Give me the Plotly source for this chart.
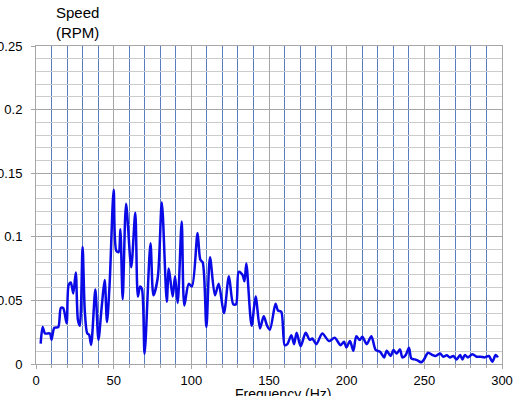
import plotly.graph_objects as go

freq_hz = [3.0, 4.3, 5.8, 9.0, 10.0, 11.8, 14.3, 16.0, 17.5, 19.7, 21.0, 22.4, 24.0, 25.6, 27.0, 28.2,
           30.0, 31.4, 33.0, 34.2, 35.5, 38.2, 40.2, 42.3, 44.2, 45.7, 47.4, 50.0, 51.7, 53.2, 54.3,
           55.8, 58.0, 61.3, 63.9, 65.6, 67.0, 68.2, 69.9, 73.7, 75.6, 78.4, 81.0, 84.2, 85.5, 88.0,
           89.5, 91.2, 93.8, 95.5, 98.3, 100.4, 104.0, 105.8, 107.3, 109.7, 112.0, 115.2, 117.6,
           121.0, 124.2, 127.0, 128.8, 130.5, 133.0, 134.2, 135.4, 138.8, 141.4, 144.2, 146.6,
           148.8, 150.6, 154.2, 155.8, 157.9, 160.1, 161.8, 164.4, 166.1, 167.8, 170.4, 173.6,
           176.2, 177.9, 180.5, 184.3, 188.6, 192.3, 196.1, 198.3, 199.8, 202.1, 204.3, 206.2,
           208.4, 210.1, 212.9, 215.9, 218.7, 221.5, 224.1, 225.8, 228.3, 230.1, 232.2, 234.3,
           235.9, 238.0, 240.1, 241.6, 243.8, 245.9, 248.1, 249.8, 252.4, 255.2, 257.3, 260.1,
           262.2, 264.4, 266.5, 268.7, 270.8, 273.0, 274.5, 276.0, 278.1, 280.9, 283.7, 286.3,
           288.8, 291.6, 293.8, 295.9, 297.4]
speed_rpm = [0.016, 0.029, 0.024, 0.024, 0.019, 0.0285, 0.029, 0.044, 0.044, 0.032, 0.062, 0.064,
             0.0555, 0.072, 0.0345, 0.030, 0.092, 0.042, 0.024, 0.023, 0.015, 0.0585, 0.019, 0.045,
             0.066, 0.033, 0.063, 0.137, 0.089, 0.088, 0.106, 0.051, 0.126, 0.076, 0.119, 0.053,
             0.061, 0.059, 0.008, 0.095, 0.054, 0.068, 0.127, 0.049, 0.075, 0.053, 0.069, 0.048,
             0.112, 0.046, 0.063, 0.061, 0.103, 0.082, 0.080, 0.029, 0.084, 0.054, 0.063, 0.040,
             0.069, 0.047, 0.047, 0.0725, 0.070, 0.065, 0.079, 0.030, 0.053, 0.028, 0.0375, 0.030,
             0.027, 0.0474, 0.042, 0.041, 0.0148, 0.0156, 0.0227, 0.0156, 0.0245, 0.014, 0.0245,
             0.019, 0.020, 0.0156, 0.024, 0.018, 0.0206, 0.0148, 0.0175, 0.013, 0.018, 0.0104,
             0.0219, 0.0188, 0.0214, 0.0156, 0.0219, 0.011, 0.0096, 0.0052, 0.0104, 0.0063, 0.011,
             0.0083, 0.0115, 0.0052, 0.007, 0.0128, 0.0044, 0.0036, 0.0026, 0.0013, 0.0036, 0.0089,
             0.007, 0.0063, 0.0083, 0.0057, 0.0068, 0.0052, 0.0063, 0.0036, 0.007, 0.0036, 0.007,
             0.0052, 0.0076, 0.0057, 0.0057, 0.0052, 0.0063, 0.0018, 0.007, 0.0052]

y_title = "Speed<br>(RPM)"
x_title = "Frequency (Hz)"

fig = go.Figure()
fig.add_trace(go.Scatter(
    x=freq_hz, y=speed_rpm, mode="lines",
    line=dict(color="#0a0ae6", width=2.5, shape="spline", smoothing=0.8),
    showlegend=False, hoverinfo="skip",
))

font_family = "Liberation Sans, Arial, sans-serif"

fig.update_layout(
    width=518, height=396,
    margin=dict(l=36, r=16, t=46, b=32),
    paper_bgcolor="white", plot_bgcolor="white",
    font=dict(family=font_family, size=13, color="#000000"),
    xaxis=dict(
        range=[0, 300], dtick=50, tick0=0, automargin=False,
        showgrid=True, gridcolor="#a6a6a6", gridwidth=1,
        ticks="outside", ticklen=4, tickcolor="#a6a6a6",
        showline=True, linecolor="#a6a6a6", linewidth=1, mirror=True,
        zeroline=False,
        minor=dict(dtick=10, showgrid=True, gridcolor="#5a7dbd", gridwidth=1,
                   ticks="outside", ticklen=3, tickcolor="#a6a6a6"),
        tickfont=dict(size=13),
    ),
    yaxis=dict(
        range=[0, 0.25], dtick=0.05, tick0=0, automargin=False,
        showgrid=True, gridcolor="#a6a6a6", gridwidth=1,
        ticks="outside", ticklen=4, tickcolor="#a6a6a6",
        showline=True, linecolor="#a6a6a6", linewidth=1, mirror=True,
        zeroline=False,
        minor=dict(dtick=0.01, showgrid=True, gridcolor="#cccccc", gridwidth=1),
        tickfont=dict(size=13),
        tickformat="~g",
        ticklabelstandoff=6,
    ),
    annotations=[
        dict(text=y_title, xref="paper", yref="paper", x=0.09, y=1.075,
             xanchor="center", yanchor="middle", showarrow=False, align="left",
             font=dict(size=15, family=font_family)),
        dict(text=x_title, xref="paper", yref="paper", x=0.53, y=-0.095,
             xanchor="center", yanchor="middle", showarrow=False,
             font=dict(size=14, family=font_family)),
    ],
)

fig.write_html("out.html")
